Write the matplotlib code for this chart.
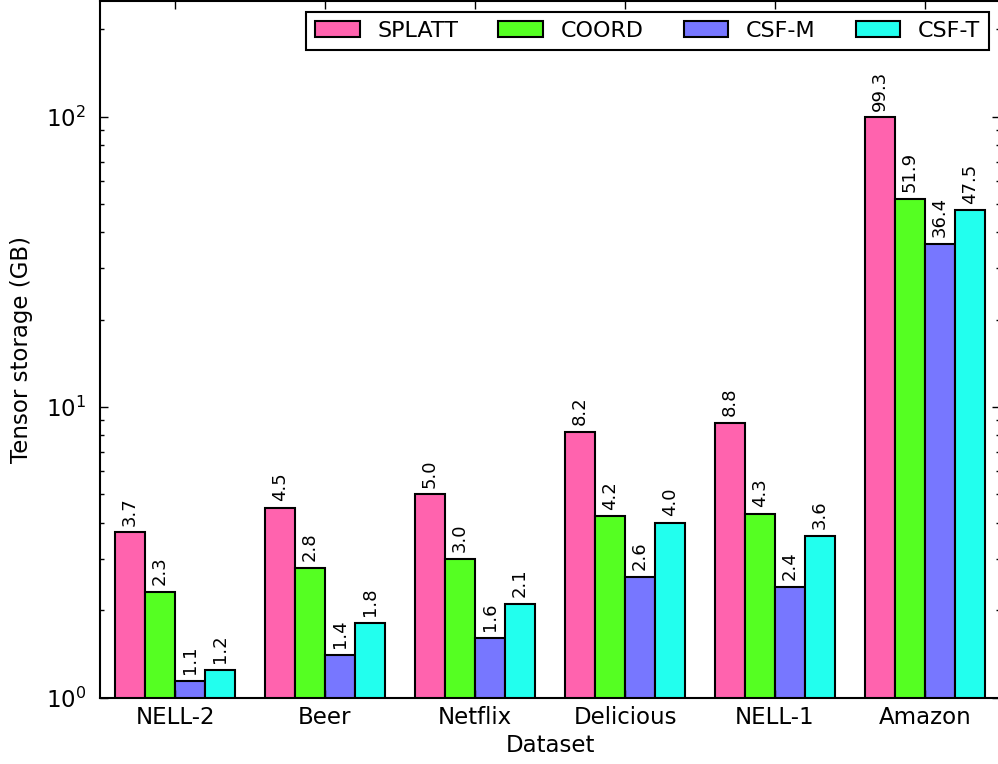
import numpy as np
import matplotlib
matplotlib.use("Agg")
import matplotlib.pyplot as plt

# data
datasets = ["NELL-2", "Beer", "Netflix", "Delicious", "NELL-1", "Amazon"]
splatt = [3.7, 4.5, 5.0, 8.2, 8.8, 99.3]
coord = [2.3, 2.8, 3.0, 4.2, 4.3, 51.9]
csf_m = [1.14, 1.4, 1.6, 2.6, 2.4, 36.4]
csf_t = [1.24, 1.8, 2.1, 4.0, 3.6, 47.5]

series = [("SPLATT", splatt, "#ff63ae"),
          ("COORD", coord, "#55ff22"),
          ("CSF-M", csf_m, "#7777ff"),
          ("CSF-T", csf_t, "#22ffee")]

plt.rcParams['font.family'] = 'DejaVu Sans'
plt.rcParams['xtick.direction'] = 'in'
plt.rcParams['ytick.direction'] = 'in'

fig = plt.figure(figsize=(9.98, 7.64), dpi=100)
ax = fig.add_axes([100/998, 1 - 697.5/764, 900/998, 696.5/764])

x = np.arange(len(datasets))
width = 0.2
for i, (name, vals, col) in enumerate(series):
    pos = x + (i - 2) * width
    bars = ax.bar(pos, vals, width, align='edge', color=col, edgecolor='black',
                  linewidth=1.5, label=name)
    for b, v in zip(bars, vals):
        ax.annotate("%.1f" % v, (b.get_x() + b.get_width() / 2, v),
                    xytext=(0, 5), textcoords='offset points',
                    ha='center', va='bottom', rotation=90, fontsize=13)

ax.set_yscale('log')
ax.set_ylim(1, 250)
ax.set_xlim(-0.5, 5.5)
ax.set_xticks(x)
ax.set_xticklabels(datasets, fontsize=16.5)
ax.tick_params(axis='y', labelsize=16.5, pad=10)
ax.tick_params(which='major', length=6, width=1, top=True, right=True)
ax.tick_params(which='minor', length=3, width=1, right=True)
ax.tick_params(axis='x', pad=6)
ax.set_xlabel("Dataset", fontsize=16.5)
ax.set_ylabel("Tensor storage (GB)", fontsize=16.5, labelpad=9)
for s in ax.spines.values():
    s.set_linewidth(1.5)

leg = ax.legend(loc='upper right', ncol=4, fontsize=16, fancybox=False,
                handletextpad=0.8, columnspacing=1.8, borderpad=0.4)
leg.get_frame().set_edgecolor('black')
leg.get_frame().set_linewidth(1.5)
leg.get_frame().set_alpha(1)

fig.savefig("out.png", dpi=100)
